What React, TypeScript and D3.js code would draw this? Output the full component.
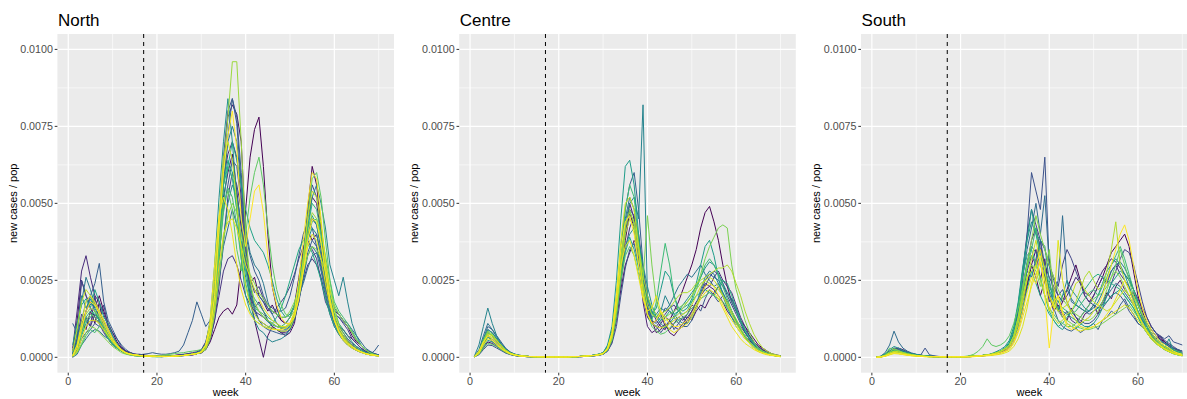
import React from "react";
import * as d3 from "d3";

// weekly new cases per population, in units of 1e-5, weeks 1..70
const weeks = d3.range(1, 71);
const unit = 1e-5;
const cutoffWeek = 17;
const xTicks = [0, 20, 40, 60];
const xMinor = [10, 30, 50, 70];
const yTicks = [0, 0.0025, 0.005, 0.0075, 0.01];
const yMinor = [0.00125, 0.00375, 0.00625, 0.00875];

const northIds = [
  0, 0.05, 0.12, 0.22, 0.3, 0.4, 0.5, 0.65, 0.75, 0.85, 1, 0.95, 0.98, 0.15, 0.6, 0.9,
  0.03, 0.18, 0.27, 0.36, 0.45, 0.58, 0.7, 0.82,
];
const northSeries = [
  [5, 30, 90, 150, 180, 160, 200, 150, 110, 80, 50, 30, 20, 15, 10,
   8, 6, 5, 4, 4, 5, 5, 6, 6, 8, 8, 10, 10, 12, 14,
   25, 50, 90, 130, 150, 160, 140, 170, 300, 480, 650, 740, 780, 620, 400, 230, 160, 120,
   110, 110, 130, 180, 300, 480, 620, 560, 420, 270, 170, 120, 100, 90, 70, 60, 45, 30, 20, 15, 10, 8],
  [20, 120, 250, 200, 160, 130, 110, 90, 60, 40, 30, 20, 15, 10, 10,
   8, 6, 5, 5, 4, 4, 4, 5, 5, 6, 8, 10, 12, 15, 20,
   40, 90, 200, 400, 620, 780, 820, 790, 700, 400, 200, 120, 60, 0, 70, 100, 90, 80,
   70, 80, 110, 200, 330, 450, 520, 500, 400, 280, 180, 120, 90, 70, 50, 40, 30, 20, 15, 10, 8, 5],
  [30, 150, 280, 330, 260, 200, 180, 140, 100, 70, 45, 30, 20, 15, 10,
   10, 8, 6, 5, 5, 4, 4, 5, 6, 8, 10, 12, 15, 18, 25,
   50, 110, 240, 420, 580, 660, 700, 650, 520, 320, 200, 160, 180, 150, 120, 100, 90, 80,
   80, 90, 120, 190, 300, 400, 450, 430, 350, 250, 170, 120, 90, 70, 55, 40, 30, 20, 15, 10, 8, 6],
  [10, 60, 250, 200, 170, 190, 150, 120, 90, 60, 40, 25, 15, 10, 8,
   6, 5, 4, 4, 3, 3, 3, 4, 5, 6, 8, 10, 12, 16, 22,
   45, 100, 220, 430, 650, 800, 840, 760, 560, 360, 220, 150, 120, 110, 100, 95, 90, 85,
   85, 100, 140, 220, 340, 470, 560, 520, 430, 300, 200, 130, 100, 80, 60, 45, 35, 25, 18, 12, 8, 6],
  [110, 80, 100, 150, 200, 240, 305, 180, 120, 90, 60, 40, 25, 15, 10,
   8, 10, 12, 15, 12, 10, 10, 12, 15, 20, 40, 80, 120, 180, 140,
   100, 120, 200, 380, 560, 720, 840, 780, 600, 380, 240, 160, 120, 100, 90, 85, 80, 75,
   75, 90, 120, 180, 260, 340, 380, 360, 300, 230, 160, 110, 80, 60, 45, 35, 25, 18, 14, 10, 20, 40],
  [15, 80, 180, 260, 220, 170, 140, 110, 80, 55, 35, 22, 14, 10, 8,
   6, 5, 4, 4, 3, 3, 3, 3, 4, 5, 6, 8, 10, 12, 18,
   40, 90, 200, 380, 560, 700, 750, 700, 560, 420, 340, 300, 280, 240, 180, 140, 110, 95,
   90, 100, 130, 190, 260, 330, 360, 340, 280, 210, 150, 110, 80, 60, 45, 35, 25, 18, 12, 9, 7, 5],
  [10, 50, 120, 180, 200, 160, 130, 100, 70, 50, 35, 22, 14, 10, 8,
   6, 5, 4, 3, 3, 3, 3, 3, 4, 5, 6, 8, 10, 14, 20,
   45, 120, 300, 520, 700, 840, 700, 520, 360, 260, 200, 170, 150, 130, 115, 105, 100, 95,
   95, 105, 140, 210, 300, 380, 420, 400, 330, 250, 170, 120, 85, 60, 45, 35, 25, 18, 12, 9, 7, 5],
  [5, 40, 90, 130, 150, 140, 120, 100, 75, 50, 35, 22, 14, 10, 7,
   5, 4, 3, 3, 3, 3, 3, 3, 4, 5, 6, 8, 10, 13, 18,
   40, 100, 220, 400, 560, 620, 580, 480, 380, 280, 220, 190, 170, 150, 130, 120, 110, 100,
   100, 110, 140, 200, 300, 420, 500, 480, 400, 300, 200, 130, 90, 65, 45, 35, 25, 18, 12, 9, 7, 5],
  [5, 30, 80, 120, 140, 130, 110, 90, 70, 50, 35, 22, 14, 10, 8,
   6, 5, 4, 4, 5, 6, 8, 10, 12, 14, 15, 18, 20, 22, 25,
   40, 80, 180, 350, 500, 540, 480, 350, 280, 400, 520, 600, 650, 560, 420, 300, 220, 170,
   140, 130, 150, 210, 320, 460, 580, 600, 520, 380, 250, 160, 110, 80, 55, 40, 30, 20, 14, 10, 7, 5],
  [8, 40, 100, 140, 160, 150, 130, 100, 70, 50, 35, 22, 15, 10, 8,
   6, 5, 4, 4, 3, 3, 3, 3, 4, 5, 6, 8, 10, 12, 18,
   35, 80, 200, 400, 620, 780, 960, 960, 700, 400, 250, 180, 150, 130, 120, 110, 100, 95,
   95, 105, 140, 210, 300, 400, 470, 450, 380, 280, 190, 130, 90, 65, 45, 35, 25, 18, 12, 9, 7, 5],
  [5, 30, 90, 150, 180, 170, 140, 110, 80, 55, 35, 22, 14, 10, 8,
   6, 5, 4, 4, 3, 3, 3, 3, 4, 5, 6, 8, 10, 13, 18,
   40, 90, 200, 420, 600, 720, 800, 680, 450, 360, 450, 540, 560, 470, 330, 230, 170, 130,
   110, 110, 130, 190, 280, 380, 450, 440, 370, 270, 180, 120, 85, 60, 45, 35, 25, 18, 12, 9, 7, 5],
  [3, 20, 60, 100, 120, 120, 110, 90, 70, 50, 35, 22, 14, 10, 7,
   5, 4, 3, 3, 3, 3, 3, 3, 4, 5, 6, 8, 10, 12, 16,
   30, 70, 160, 300, 400, 440, 450, 420, 360, 300, 260, 220, 190, 160, 140, 120, 110, 100,
   100, 110, 140, 200, 280, 360, 400, 380, 320, 240, 170, 120, 85, 60, 45, 35, 25, 18, 12, 9, 7, 5],
  [5, 40, 110, 180, 200, 180, 150, 120, 90, 60, 40, 25, 15, 10, 8,
   6, 5, 4, 4, 3, 3, 3, 3, 4, 5, 6, 8, 10, 12, 18,
   40, 120, 300, 460, 520, 480, 400, 300, 220, 170, 140, 120, 110, 100, 95, 90, 90, 90,
   95, 110, 150, 250, 380, 500, 600, 580, 450, 300, 190, 120, 80, 55, 40, 30, 22, 16, 12, 8, 6, 4],
  [10, 60, 140, 120, 100, 200, 110, 80, 60, 40, 30, 20, 14, 10, 8,
   6, 5, 4, 4, 3, 3, 3, 3, 4, 5, 6, 8, 10, 12, 16,
   30, 60, 120, 200, 280, 320, 330, 300, 250, 200, 170, 150, 140, 130, 120, 110, 100, 95,
   95, 110, 140, 190, 250, 300, 320, 300, 260, 200, 140, 100, 75, 55, 40, 30, 22, 16, 12, 8, 6, 4],
  [3, 25, 70, 110, 130, 150, 120, 90, 65, 45, 30, 20, 12, 8, 6,
   5, 4, 3, 3, 3, 3, 3, 3, 4, 5, 6, 8, 10, 12, 16,
   35, 80, 190, 380, 560, 640, 600, 480, 320, 200, 150, 120, 110, 100, 95, 110, 130, 160,
   200, 250, 300, 350, 380, 370, 340, 300, 250, 190, 140, 100, 75, 55, 40, 30, 22, 16, 12, 8, 6, 4],
  [20, 90, 180, 220, 200, 170, 150, 120, 90, 60, 40, 25, 15, 10, 8,
   6, 5, 4, 4, 3, 3, 3, 3, 4, 5, 6, 8, 10, 12, 16,
   40, 100, 250, 450, 650, 700, 640, 500, 350, 230, 170, 140, 120, 110, 100, 95, 90, 85,
   85, 95, 130, 200, 320, 450, 540, 520, 430, 320, 220, 150, 100, 70, 50, 35, 25, 18, 12, 8, 6, 4],
  [0, 40, 120, 90, 150, 110, 180, 90, 70, 60, 40, 30, 15, 12, 8,
   6, 4, 5, 3, 4, 2, 3, 4, 3, 6, 5, 8, 7, 12, 15,
   30, 60, 150, 300, 520, 600, 660, 540, 420, 300, 240, 260, 200, 180, 150, 170, 140, 120,
   110, 130, 170, 260, 350, 410, 380, 400, 330, 240, 180, 150, 140, 120, 100, 70, 50, 40, 25, 18, 12, 8],
  [10, 50, 80, 130, 100, 140, 120, 170, 100, 80, 60, 35, 20, 12, 8,
   6, 5, 4, 4, 3, 3, 3, 4, 5, 4, 6, 8, 9, 12, 15,
   25, 55, 120, 230, 380, 520, 600, 560, 480, 330, 260, 210, 230, 190, 160, 140, 160, 180,
   200, 230, 270, 320, 360, 380, 350, 320, 250, 180, 150, 140, 130, 110, 90, 60, 45, 30, 20, 15, 10, 8],
  [5, 20, 60, 80, 90, 110, 100, 120, 70, 50, 35, 20, 14, 10, 6,
   5, 4, 3, 3, 3, 3, 3, 3, 4, 5, 6, 8, 10, 14, 20,
   40, 90, 200, 380, 480, 560, 640, 620, 500, 400, 330, 280, 250, 200, 170, 160, 150, 150,
   160, 200, 260, 330, 400, 440, 420, 360, 290, 220, 170, 140, 130, 115, 100, 80, 55, 40, 25, 15, 10, 6],
  [0, 10, 40, 60, 80, 90, 85, 70, 60, 45, 30, 20, 12, 8, 5,
   4, 3, 3, 3, 2, 2, 3, 3, 4, 5, 6, 7, 9, 12, 15,
   30, 70, 150, 250, 360, 420, 480, 430, 360, 300, 250, 220, 200, 180, 160, 150, 140, 130,
   130, 140, 160, 200, 240, 290, 330, 340, 310, 260, 200, 160, 140, 120, 110, 90, 70, 50, 30, 20, 12, 8],
  [20, 80, 200, 160, 190, 150, 120, 100, 80, 60, 40, 25, 15, 10, 8,
   6, 5, 4, 4, 3, 3, 3, 4, 5, 6, 8, 10, 12, 15, 20,
   40, 80, 160, 260, 380, 500, 560, 520, 440, 300, 180, 120, 90, 80, 60, 50, 55, 60,
   70, 90, 130, 200, 300, 420, 520, 560, 500, 420, 300, 250, 200, 260, 180, 110, 70, 40, 25, 15, 10, 6],
  [40, 110, 170, 190, 160, 220, 180, 130, 110, 70, 45, 25, 15, 10, 6,
   5, 4, 3, 3, 3, 3, 3, 3, 4, 5, 6, 8, 10, 14, 18,
   35, 80, 180, 320, 500, 620, 700, 640, 560, 480, 420, 380, 360, 340, 300, 250, 190, 150,
   130, 140, 170, 240, 330, 420, 460, 430, 360, 270, 190, 140, 110, 90, 70, 50, 35, 25, 16, 10, 8, 5],
  [5, 15, 40, 70, 90, 80, 100, 90, 60, 40, 30, 20, 12, 8, 5,
   4, 3, 3, 2, 2, 2, 3, 3, 4, 5, 6, 8, 10, 12, 16,
   30, 70, 170, 330, 470, 550, 520, 430, 320, 240, 180, 160, 150, 140, 120, 110, 100, 100,
   110, 130, 170, 230, 310, 390, 440, 450, 400, 330, 250, 180, 150, 130, 110, 85, 60, 40, 25, 15, 9, 5],
  [2, 15, 45, 80, 100, 95, 80, 65, 50, 35, 25, 15, 10, 7, 5,
   4, 3, 3, 2, 2, 2, 2, 3, 4, 5, 6, 8, 10, 12, 15,
   25, 60, 140, 260, 380, 460, 500, 470, 400, 330, 270, 240, 210, 190, 170, 150, 140, 130,
   130, 150, 180, 220, 280, 330, 360, 350, 320, 280, 220, 170, 140, 120, 100, 80, 55, 40, 25, 15, 9, 5],
];

const centreIds = [
  0, 0.08, 0.2, 0.3, 0.45, 0.55, 0.68, 0.8, 0.88, 1, 0.97, 0.92,
  0.04, 0.14, 0.25, 0.38, 0.5, 0.62, 0.74, 0.85,
];
const centreSeries = [
  [2, 10, 40, 70, 60, 45, 30, 20, 12, 8, 5, 4, 3, 2, 2,
   2, 1, 1, 1, 1, 1, 1, 2, 2, 3, 4, 5, 6, 8, 12,
   25, 60, 140, 250, 380, 470, 420, 300, 200, 130, 110, 120, 100, 90, 120, 150, 180, 220,
   260, 300, 350, 420, 470, 490, 440, 380, 300, 230, 180, 150, 120, 100, 80, 60, 40, 30, 20, 12, 8, 5],
  [3, 15, 50, 80, 70, 50, 35, 22, 14, 9, 6, 4, 3, 2, 2,
   2, 1, 1, 1, 1, 1, 1, 2, 2, 3, 4, 5, 7, 9, 14,
   30, 70, 160, 280, 400, 500, 450, 320, 180, 100, 80, 90, 110, 130, 120, 100, 90, 100,
   120, 150, 180, 200, 220, 230, 220, 200, 180, 150, 130, 110, 90, 70, 55, 40, 30, 22, 15, 10, 7, 4],
  [2, 12, 45, 90, 80, 60, 40, 25, 15, 10, 6, 4, 3, 2, 2,
   2, 1, 1, 1, 1, 1, 1, 2, 2, 3, 4, 5, 6, 8, 12,
   25, 60, 150, 300, 420, 480, 460, 380, 250, 150, 110, 100, 120, 140, 160, 170, 150, 130,
   130, 150, 170, 200, 230, 260, 280, 270, 240, 200, 170, 140, 110, 80, 60, 40, 30, 20, 15, 10, 6, 4],
  [3, 18, 60, 100, 90, 70, 50, 30, 18, 11, 7, 5, 3, 2, 2,
   2, 1, 1, 1, 1, 1, 1, 2, 2, 3, 4, 5, 7, 10, 15,
   35, 90, 200, 350, 480, 560, 600, 480, 300, 170, 120, 110, 130, 160, 150, 130, 110, 100,
   100, 120, 160, 210, 250, 270, 260, 250, 230, 210, 190, 160, 120, 80, 60, 45, 30, 20, 15, 10, 6, 4],
  [5, 40, 100, 160, 110, 70, 45, 28, 16, 10, 7, 5, 3, 2, 2,
   2, 1, 1, 1, 1, 1, 1, 2, 2, 3, 4, 5, 7, 10, 15,
   35, 80, 180, 320, 440, 500, 520, 450, 820, 200, 140, 130, 150, 200, 170, 140, 120, 110,
   110, 130, 170, 220, 260, 280, 270, 240, 210, 180, 150, 120, 90, 70, 50, 35, 25, 18, 12, 8, 5, 3],
  [3, 20, 60, 90, 80, 60, 40, 25, 15, 10, 6, 4, 3, 2, 2,
   2, 1, 1, 1, 1, 1, 1, 2, 2, 3, 4, 5, 7, 10, 15,
   40, 100, 250, 450, 620, 640, 560, 400, 250, 170, 140, 160, 220, 280, 260, 200, 160, 150,
   160, 190, 240, 300, 360, 380, 330, 260, 200, 160, 130, 100, 80, 60, 45, 30, 20, 14, 10, 7, 5, 3],
  [2, 15, 50, 80, 70, 55, 38, 24, 14, 9, 6, 4, 3, 2, 2,
   2, 1, 1, 1, 1, 1, 1, 2, 2, 3, 4, 5, 7, 10, 14,
   30, 80, 190, 340, 480, 560, 520, 380, 220, 140, 120, 180, 280, 370, 300, 200, 150, 140,
   150, 180, 220, 260, 300, 320, 300, 270, 230, 190, 150, 120, 90, 65, 45, 30, 20, 14, 10, 7, 5, 3],
  [3, 18, 55, 85, 75, 55, 38, 24, 14, 9, 6, 4, 3, 2, 2,
   2, 1, 1, 1, 1, 1, 1, 2, 2, 3, 4, 5, 7, 10, 14,
   30, 70, 160, 300, 420, 480, 430, 300, 250, 460, 300, 180, 140, 130, 140, 150, 160, 170,
   180, 200, 230, 270, 320, 360, 390, 420, 430, 420, 300, 220, 170, 120, 80, 50, 30, 20, 14, 10, 6, 4],
  [2, 15, 45, 70, 65, 50, 35, 22, 13, 8, 5, 4, 3, 2, 2,
   2, 1, 1, 1, 1, 1, 1, 2, 2, 3, 4, 5, 6, 8, 12,
   25, 60, 150, 280, 400, 450, 420, 340, 240, 170, 140, 130, 140, 150, 160, 180, 200, 210,
   210, 220, 240, 250, 260, 270, 280, 290, 290, 300, 280, 240, 200, 150, 110, 75, 50, 30, 20, 12, 8, 5],
  [3, 20, 50, 70, 60, 45, 30, 20, 12, 8, 5, 4, 3, 2, 2,
   2, 1, 1, 1, 1, 1, 1, 2, 2, 3, 4, 5, 6, 8, 12,
   30, 80, 200, 350, 440, 460, 400, 300, 200, 140, 110, 120, 150, 130, 110, 100, 100, 110,
   120, 140, 170, 200, 230, 240, 230, 200, 170, 140, 120, 100, 80, 60, 45, 30, 20, 14, 10, 7, 5, 3],
  [2, 12, 40, 60, 55, 40, 28, 18, 11, 7, 5, 3, 2, 2, 1,
   1, 1, 1, 1, 1, 1, 1, 2, 2, 3, 4, 5, 6, 8, 12,
   25, 70, 170, 300, 360, 380, 330, 260, 190, 150, 160, 200, 150, 110, 90, 80, 90, 100,
   110, 130, 160, 190, 210, 220, 210, 190, 160, 130, 100, 80, 60, 45, 35, 25, 18, 12, 8, 6, 4, 2],
  [2, 14, 45, 75, 70, 55, 38, 22, 13, 8, 5, 4, 3, 2, 2,
   2, 1, 1, 1, 1, 1, 1, 2, 2, 3, 4, 5, 6, 8, 12,
   30, 80, 200, 380, 500, 520, 480, 360, 220, 140, 110, 100, 95, 100, 110, 120, 130, 140,
   150, 170, 200, 230, 250, 260, 250, 230, 200, 170, 140, 110, 85, 60, 45, 30, 20, 14, 10, 7, 5, 3],
  [2, 10, 30, 50, 45, 35, 25, 15, 10, 6, 4, 3, 2, 2, 1,
   1, 1, 1, 1, 1, 1, 1, 1, 2, 2, 3, 4, 5, 7, 10,
   20, 50, 120, 220, 300, 340, 380, 350, 260, 180, 120, 80, 90, 110, 80, 70, 90, 110,
   130, 120, 150, 170, 160, 190, 210, 230, 200, 180, 190, 160, 120, 90, 70, 50, 35, 25, 15, 10, 6, 3],
  [3, 18, 55, 70, 50, 40, 28, 18, 10, 6, 4, 3, 2, 2, 1,
   1, 1, 1, 1, 1, 1, 1, 1, 2, 2, 3, 4, 5, 7, 10,
   25, 60, 130, 240, 350, 420, 460, 400, 290, 200, 150, 120, 140, 100, 90, 110, 130, 120,
   140, 170, 160, 200, 240, 230, 260, 280, 250, 230, 210, 170, 130, 100, 70, 50, 35, 25, 15, 10, 6, 3],
  [2, 8, 25, 40, 38, 30, 22, 14, 9, 6, 4, 3, 2, 1, 1,
   1, 1, 1, 1, 1, 1, 1, 1, 2, 2, 3, 4, 5, 7, 10,
   20, 45, 100, 200, 290, 350, 370, 300, 220, 160, 110, 100, 80, 100, 120, 90, 110, 130,
   110, 140, 170, 150, 190, 220, 200, 180, 200, 170, 140, 120, 100, 80, 60, 45, 30, 20, 12, 8, 5, 3],
  [4, 25, 70, 110, 90, 65, 45, 28, 16, 10, 6, 4, 3, 2, 2,
   2, 1, 1, 1, 1, 1, 1, 2, 2, 3, 4, 5, 7, 10, 14,
   30, 70, 170, 320, 450, 520, 480, 360, 240, 170, 130, 140, 160, 150, 170, 200, 230, 250,
   270, 260, 280, 300, 270, 250, 230, 240, 210, 180, 150, 120, 90, 65, 45, 30, 20, 14, 10, 7, 5, 3],
  [2, 12, 35, 55, 50, 40, 28, 18, 11, 7, 5, 3, 2, 2, 1,
   1, 1, 1, 1, 1, 1, 1, 1, 2, 3, 4, 5, 6, 9, 13,
   28, 65, 150, 280, 360, 400, 420, 380, 300, 230, 170, 130, 110, 95, 110, 130, 150, 170,
   190, 210, 230, 260, 290, 310, 300, 270, 240, 210, 180, 150, 115, 85, 60, 40, 28, 18, 12, 8, 5, 3],
  [3, 14, 40, 65, 58, 45, 30, 20, 12, 8, 5, 4, 3, 2, 2,
   2, 1, 1, 1, 1, 1, 1, 2, 2, 3, 4, 5, 6, 8, 12,
   25, 60, 140, 260, 340, 390, 350, 290, 230, 190, 150, 130, 120, 130, 150, 140, 150, 160,
   170, 180, 200, 210, 220, 210, 200, 230, 250, 240, 200, 160, 120, 90, 65, 45, 30, 20, 13, 8, 5, 3],
  [2, 10, 30, 45, 42, 35, 25, 16, 10, 6, 4, 3, 2, 2, 1,
   1, 1, 1, 1, 1, 1, 1, 1, 2, 2, 3, 4, 5, 7, 10,
   22, 55, 130, 250, 330, 360, 330, 270, 200, 140, 100, 85, 75, 80, 95, 110, 120, 130,
   140, 160, 170, 190, 200, 210, 200, 190, 180, 160, 140, 115, 90, 70, 50, 35, 24, 16, 10, 7, 4, 2],
  [3, 16, 50, 80, 72, 55, 38, 24, 14, 9, 6, 4, 3, 2, 2,
   2, 1, 1, 1, 1, 1, 1, 2, 2, 3, 4, 5, 6, 8, 12,
   28, 70, 170, 320, 430, 470, 440, 360, 270, 200, 160, 140, 130, 120, 125, 130, 140, 160,
   180, 200, 220, 240, 250, 240, 230, 220, 200, 180, 150, 125, 95, 70, 50, 35, 24, 16, 10, 7, 4, 2],
];

const southIds = [
  0, 0.1, 0.25, 0.35, 0.5, 0.62, 0.75, 0.88, 1, 0.95, 0.92, 0.2, 0.55, 0.8,
  0.05, 0.15, 0.3, 0.42, 0.58, 0.68, 0.82, 0.97,
];
const southSeries = [
  [0, 2, 8, 15, 20, 18, 14, 10, 8, 6, 5, 4, 3, 2, 2,
   2, 2, 2, 2, 2, 2, 2, 3, 4, 5, 6, 8, 10, 14, 20,
   30, 50, 90, 150, 230, 300, 260, 200, 250, 320, 200, 150, 180, 220, 260, 300, 250, 200,
   180, 200, 230, 260, 300, 340, 360, 380, 400, 360, 280, 200, 150, 110, 90, 70, 60, 50, 40, 30, 22, 15],
  [0, 3, 10, 20, 25, 22, 18, 14, 10, 8, 6, 5, 4, 3, 2,
   2, 2, 2, 2, 2, 2, 3, 4, 5, 6, 8, 10, 14, 20, 28,
   40, 70, 120, 200, 300, 380, 420, 350, 300, 260, 230, 200, 180, 200, 230, 260, 240, 210,
   200, 220, 250, 280, 300, 320, 310, 290, 270, 250, 220, 190, 160, 130, 100, 80, 60, 45, 35, 25, 18, 12],
  [0, 3, 10, 20, 28, 25, 20, 15, 12, 9, 7, 30, 8, 5, 3,
   2, 2, 2, 2, 2, 2, 3, 4, 5, 6, 8, 10, 14, 20, 28,
   40, 70, 130, 250, 400, 600, 540, 480, 650, 300, 250, 200, 220, 180, 150, 130, 120, 110,
   110, 120, 140, 160, 180, 200, 210, 200, 180, 150, 130, 110, 100, 90, 100, 80, 70, 60, 70, 50, 45, 40],
  [0, 4, 15, 40, 85, 50, 30, 20, 14, 10, 7, 5, 4, 3, 2,
   2, 2, 2, 2, 2, 2, 3, 4, 5, 6, 8, 10, 14, 20, 28,
   40, 80, 150, 260, 350, 420, 500, 400, 525, 300, 200, 250, 460, 250, 180, 170, 160, 150,
   140, 150, 160, 180, 200, 220, 240, 230, 210, 190, 170, 150, 120, 100, 80, 60, 50, 45, 40, 30, 25, 20],
  [0, 3, 12, 25, 35, 30, 22, 16, 12, 9, 7, 5, 4, 3, 2,
   2, 2, 2, 2, 2, 2, 3, 4, 5, 6, 8, 12, 18, 25, 35,
   55, 100, 180, 290, 380, 440, 400, 380, 360, 250, 180, 150, 200, 250, 220, 200, 180, 160,
   150, 170, 200, 240, 280, 300, 320, 300, 270, 230, 190, 150, 120, 90, 70, 50, 40, 30, 60, 20, 15, 10],
  [0, 2, 8, 18, 25, 22, 16, 12, 9, 7, 5, 4, 3, 2, 2,
   2, 2, 2, 2, 2, 2, 3, 4, 5, 6, 8, 10, 14, 20, 30,
   50, 90, 170, 270, 330, 350, 300, 260, 200, 150, 120, 100, 110, 130, 150, 170, 200, 220,
   240, 260, 270, 260, 250, 240, 230, 220, 200, 180, 160, 130, 100, 80, 60, 45, 35, 25, 18, 12, 8, 5],
  [0, 2, 8, 30, 25, 20, 15, 11, 8, 6, 5, 4, 3, 2, 2,
   2, 2, 2, 2, 2, 3, 5, 10, 20, 35, 60, 40, 35, 40, 50,
   70, 110, 160, 230, 300, 330, 310, 250, 200, 160, 140, 120, 110, 100, 100, 110, 130, 150,
   170, 190, 200, 210, 230, 260, 300, 350, 300, 250, 200, 150, 110, 80, 60, 45, 35, 25, 18, 12, 8, 5],
  [0, 2, 6, 12, 18, 16, 12, 9, 7, 5, 4, 3, 2, 2, 2,
   2, 2, 2, 2, 2, 2, 3, 4, 5, 6, 8, 10, 14, 20, 28,
   40, 70, 130, 200, 260, 280, 300, 250, 200, 160, 130, 110, 120, 140, 150, 180, 220, 260,
   280, 250, 220, 230, 280, 350, 440, 300, 250, 220, 200, 170, 140, 110, 80, 60, 45, 35, 25, 18, 12, 8],
  [0, 1, 4, 10, 15, 13, 10, 8, 6, 5, 4, 3, 2, 2, 2,
   2, 2, 2, 2, 2, 2, 2, 3, 4, 5, 6, 8, 10, 14, 20,
   30, 50, 90, 150, 210, 260, 240, 330, 200, 30, 150, 200, 140, 100, 90, 100, 110, 120,
   130, 150, 170, 200, 250, 300, 350, 400, 430, 380, 300, 220, 160, 120, 90, 70, 50, 40, 30, 20, 14, 10],
  [0, 1, 3, 8, 12, 11, 9, 7, 5, 4, 3, 2, 2, 2, 2,
   1, 1, 1, 1, 1, 1, 1, 2, 3, 4, 5, 6, 8, 10, 14,
   20, 35, 60, 100, 160, 240, 300, 350, 280, 200, 160, 380, 250, 180, 140, 120, 100, 95,
   95, 100, 110, 120, 130, 140, 150, 160, 170, 160, 140, 120, 100, 80, 60, 45, 35, 25, 18, 12, 8, 5],
  [0, 2, 6, 14, 20, 18, 14, 10, 8, 6, 4, 3, 2, 2, 2,
   2, 2, 2, 2, 2, 2, 3, 4, 5, 6, 8, 10, 14, 18, 25,
   35, 60, 110, 180, 250, 320, 380, 300, 250, 200, 170, 150, 160, 170, 200, 240, 250, 220,
   200, 180, 170, 160, 150, 160, 180, 200, 220, 200, 170, 140, 110, 85, 65, 50, 38, 28, 20, 14, 10, 6],
  [0, 2, 8, 20, 30, 28, 22, 16, 12, 9, 7, 5, 4, 3, 2,
   2, 2, 2, 2, 2, 2, 3, 4, 5, 6, 8, 10, 14, 20, 28,
   40, 80, 160, 280, 400, 480, 430, 380, 350, 300, 260, 230, 300, 350, 320, 280, 240, 200,
   180, 170, 160, 170, 200, 240, 280, 320, 350, 340, 300, 240, 180, 130, 100, 80, 65, 55, 45, 35, 25, 15],
  [0, 2, 8, 18, 24, 22, 17, 12, 9, 7, 5, 4, 3, 2, 2,
   2, 2, 2, 2, 2, 2, 3, 4, 5, 6, 8, 10, 14, 20, 28,
   45, 90, 170, 280, 380, 480, 400, 330, 280, 220, 180, 160, 150, 140, 130, 120, 110, 100,
   100, 110, 130, 160, 200, 240, 260, 280, 270, 250, 220, 180, 140, 100, 70, 50, 35, 25, 18, 12, 8, 5],
  [0, 1, 5, 12, 16, 14, 11, 8, 6, 5, 4, 3, 2, 2, 2,
   2, 2, 2, 2, 2, 2, 3, 4, 5, 6, 8, 10, 14, 20, 28,
   40, 70, 120, 190, 260, 300, 280, 230, 280, 350, 200, 150, 130, 120, 110, 100, 95, 90,
   90, 95, 100, 110, 120, 130, 140, 150, 160, 170, 150, 130, 110, 90, 70, 55, 40, 30, 22, 15, 10, 6],
  [0, 1, 5, 15, 22, 30, 25, 18, 12, 8, 5, 4, 3, 2, 2,
   2, 2, 2, 2, 2, 2, 2, 3, 4, 5, 6, 8, 12, 16, 24,
   35, 60, 110, 180, 240, 300, 350, 250, 320, 200, 150, 170, 140, 120, 160, 130, 110, 140,
   150, 170, 140, 180, 210, 190, 230, 250, 220, 200, 210, 170, 130, 100, 80, 60, 70, 50, 40, 30, 25, 20],
  [0, 2, 6, 14, 18, 24, 20, 15, 10, 8, 6, 4, 3, 2, 2,
   2, 2, 2, 2, 2, 2, 3, 4, 5, 6, 8, 10, 14, 20, 30,
   45, 80, 140, 220, 280, 330, 300, 380, 260, 180, 220, 160, 130, 150, 120, 110, 130, 150,
   170, 200, 230, 260, 240, 280, 300, 270, 250, 230, 180, 150, 120, 100, 75, 55, 40, 30, 22, 15, 10, 6],
  [0, 1, 4, 10, 16, 20, 18, 14, 10, 7, 5, 4, 3, 2, 2,
   2, 2, 2, 2, 2, 2, 2, 3, 4, 5, 7, 9, 12, 18, 26,
   40, 70, 130, 210, 280, 260, 320, 380, 300, 210, 160, 120, 100, 90, 85, 95, 80, 90,
   100, 110, 90, 120, 130, 150, 140, 170, 190, 160, 140, 110, 100, 80, 60, 50, 40, 30, 25, 20, 15, 10],
  [0, 2, 8, 16, 20, 18, 15, 11, 8, 6, 5, 4, 3, 2, 2,
   2, 2, 2, 2, 2, 2, 3, 4, 5, 6, 8, 10, 14, 20, 28,
   40, 75, 140, 230, 310, 360, 340, 300, 260, 230, 200, 180, 200, 220, 190, 170, 160, 150,
   150, 160, 180, 210, 250, 280, 300, 310, 290, 260, 220, 180, 140, 110, 90, 70, 55, 45, 35, 25, 18, 12],
  [0, 1, 5, 12, 18, 16, 13, 10, 7, 5, 4, 3, 2, 2, 2,
   2, 2, 2, 2, 2, 2, 3, 4, 5, 6, 8, 10, 14, 20, 26,
   35, 60, 100, 160, 220, 280, 240, 200, 170, 140, 120, 100, 90, 110, 100, 95, 105, 120,
   130, 150, 160, 170, 180, 200, 210, 220, 200, 180, 160, 130, 110, 90, 70, 55, 45, 35, 28, 22, 16, 10],
  [0, 2, 7, 15, 22, 20, 16, 12, 9, 7, 5, 4, 3, 2, 2,
   2, 2, 2, 2, 2, 2, 3, 4, 5, 6, 8, 10, 14, 20, 28,
   40, 70, 130, 210, 290, 350, 420, 330, 280, 240, 200, 180, 160, 150, 140, 150, 170, 190,
   210, 220, 200, 230, 260, 300, 330, 360, 320, 270, 220, 170, 130, 100, 80, 60, 45, 35, 30, 25, 20, 15],
  [0, 1, 6, 18, 28, 22, 16, 12, 9, 6, 4, 3, 2, 2, 2,
   2, 2, 2, 2, 2, 2, 3, 4, 5, 6, 8, 10, 14, 20, 28,
   40, 70, 130, 220, 300, 380, 460, 400, 350, 300, 260, 220, 190, 170, 150, 140, 130, 120,
   120, 130, 150, 180, 220, 260, 280, 260, 230, 200, 170, 140, 110, 85, 65, 50, 40, 30, 22, 16, 12, 8],
  [0, 1, 4, 9, 14, 12, 9, 7, 5, 4, 3, 2, 2, 2, 2,
   1, 1, 1, 1, 1, 1, 2, 3, 4, 5, 6, 8, 10, 14, 18,
   25, 45, 80, 130, 180, 230, 270, 310, 250, 150, 180, 200, 150, 110, 100, 90, 85, 90,
   95, 100, 110, 120, 140, 160, 190, 220, 250, 220, 180, 140, 110, 85, 65, 50, 38, 28, 20, 14, 10, 6],
];

const regions = [
  { title: "North", ids: northIds, series: northSeries },
  { title: "Centre", ids: centreIds, series: centreSeries },
  { title: "South", ids: southIds, series: southSeries },
];

const font = "'Liberation Sans', Arial, Helvetica, sans-serif";
const panelLeft = 57.4;
const panelTop = 34;
const panelW = 336.6;
const panelH = 338.7;
const step = 401.8;

function Panel({ title, ids, series, offset }) {
  const x = d3.scaleLinear().domain([-2.45, 73.45]).range([0, panelW]);
  const y = d3.scaleLinear().domain([-0.0005, 0.0105]).range([panelH, 0]);
  const line = d3
    .line<number>()
    .x((d, i) => x(weeks[i]))
    .y((d) => y(d * unit));
  const colour = d3.scaleSequential(d3.interpolateViridis).domain([0, 1]);
  // draw in id order so the yellow districts end up on top, like ggplot does
  const order = d3.range(series.length).sort((a, b) => ids[a] - ids[b]);

  return (
    <g transform={`translate(${offset + panelLeft},${panelTop})`}>
      <rect width={panelW} height={panelH} fill="#EBEBEB" />
      {xMinor.map((t) => (
        <line key={"xm" + t} x1={x(t)} x2={x(t)} y1={0} y2={panelH} stroke="#fff" strokeWidth={0.6} />
      ))}
      {yMinor.map((t) => (
        <line key={"ym" + t} x1={0} x2={panelW} y1={y(t)} y2={y(t)} stroke="#fff" strokeWidth={0.6} />
      ))}
      {xTicks.map((t) => (
        <line key={"xg" + t} x1={x(t)} x2={x(t)} y1={0} y2={panelH} stroke="#fff" strokeWidth={1.2} />
      ))}
      {yTicks.map((t) => (
        <line key={"yg" + t} x1={0} x2={panelW} y1={y(t)} y2={y(t)} stroke="#fff" strokeWidth={1.2} />
      ))}

      {order.map((i) => (
        <path key={i} d={line(series[i])} fill="none" stroke={colour(ids[i])} strokeWidth={1} strokeLinejoin="round" />
      ))}

      <line
        x1={x(cutoffWeek)}
        x2={x(cutoffWeek)}
        y1={0}
        y2={panelH}
        stroke="#000"
        strokeWidth={1}
        strokeDasharray="4,4"
      />

      {yTicks.map((t) => (
        <g key={"yt" + t} transform={`translate(0,${y(t)})`}>
          <line x1={-2.7} x2={0} stroke="#333" strokeWidth={1} />
          <text x={-4.5} dy="0.35em" textAnchor="end" fontSize={10.7} fill="#4D4D4D" fontFamily={font}>
            {d3.format(".4f")(t)}
          </text>
        </g>
      ))}
      {xTicks.map((t) => (
        <g key={"xt" + t} transform={`translate(${x(t)},${panelH})`}>
          <line y1={0} y2={2.7} stroke="#333" strokeWidth={1} />
          <text y={12.3} textAnchor="middle" fontSize={10.7} fill="#4D4D4D" fontFamily={font}>
            {t}
          </text>
        </g>
      ))}

      <text x={0.6} y={-8} fontSize={17} fill="#000" fontFamily={font}>
        {title}
      </text>
      <text x={panelW / 2} y={362} textAnchor="middle" fontSize={11} fill="#000" fontFamily={font}>
        week
      </text>
      <text
        transform={`translate(${16.5 - panelLeft},${panelH / 2}) rotate(-90)`}
        textAnchor="middle"
        fontSize={11}
        fill="#000"
        fontFamily={font}
      >
        new cases / pop
      </text>
    </g>
  );
}

export default function App() {
  return (
    <svg
      width={1187}
      height={399}
      style={{ position: "absolute", left: 0, top: 0, background: "#fff" }}
    >
      {regions.map((r, k) => (
        <Panel key={r.title} title={r.title} ids={r.ids} series={r.series} offset={k * step} />
      ))}
    </svg>
  );
}
